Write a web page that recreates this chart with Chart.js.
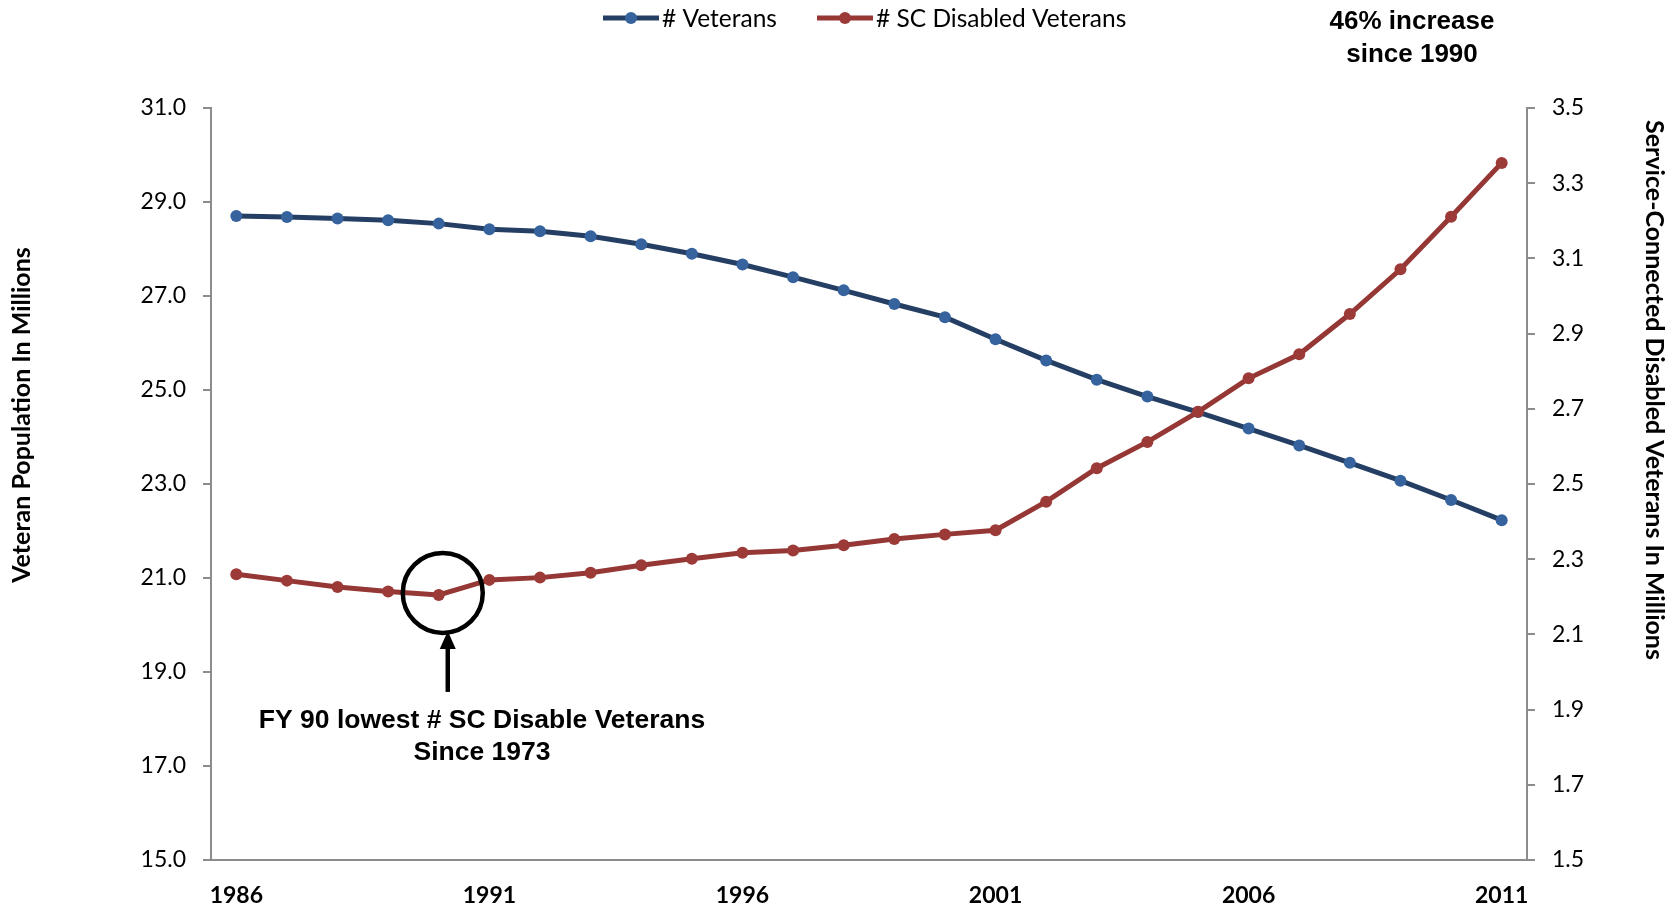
<!DOCTYPE html>
<html lang="en">
<head>
  <meta charset="UTF-8"/>
  <title>Veterans vs SC Disabled Veterans</title>
  <script src="https://cdn.jsdelivr.net/npm/chart.js"></script>
  <style>
    body { margin: 0; background: #fff; }
    #wrap { width: 1675px; height: 907px; position: relative; }
  </style>
</head>
<body>
  <div id="wrap"><canvas id="chart"></canvas></div>

  <script>
    // fiscal years
    const years = ['1986','1987','1988','1989','1990','1991','1992','1993','1994','1995',
                   '1996','1997','1998','1999','2000','2001','2002','2003','2004','2005',
                   '2006','2007','2008','2009','2010','2011'];
    // # veterans (millions, left axis)
    const veterans = [28.70,28.68,28.65,28.61,28.54,28.42,28.38,28.27,28.10,27.90,
                      27.67,27.40,27.12,26.83,26.55,26.08,25.63,25.22,24.86,24.53,
                      24.18,23.82,23.45,23.07,22.66,22.23];
    // # service-connected disabled veterans (millions, right axis)
    const scDisabled = [2.260,2.243,2.226,2.214,2.205,2.245,2.251,2.264,2.284,2.301,
                        2.317,2.323,2.337,2.354,2.366,2.377,2.453,2.542,2.612,2.692,
                        2.781,2.845,2.952,3.071,3.211,3.354];
    const xTickYears = ['1986','1991','1996','2001','2006','2011'];

    const BLUE_LINE = '#243f63', BLUE_PT = '#36639d';
    const RED_LINE = '#953735', RED_PT = '#9c3a38';
    const AXIS = '#8c8c8c';
    const SANS = 'Lato, "Noto Sans", sans-serif';
    const ARIAL = '"Liberation Sans", Arial, sans-serif';

    // legend, axis titles and the FY90 callout
    const extras = {
      id: 'extras',
      afterDraw(chart) {
        const ctx = chart.ctx;
        const xs = chart.scales.x, yr = chart.scales.y1;
        ctx.save();

        // legend
        const items = [
          { x: 603, label: '# Veterans', line: BLUE_LINE, pt: BLUE_PT },
          { x: 817, label: '# SC Disabled Veterans', line: RED_LINE, pt: RED_PT }
        ];
        const ly = 18;
        items.forEach(it => {
          ctx.strokeStyle = it.line;
          ctx.lineWidth = 5;
          ctx.beginPath();
          ctx.moveTo(it.x, ly);
          ctx.lineTo(it.x + 56, ly);
          ctx.stroke();
          ctx.fillStyle = it.pt;
          ctx.beginPath();
          ctx.arc(it.x + 28, ly, 6, 0, Math.PI * 2);
          ctx.fill();
          ctx.fillStyle = '#000';
          ctx.font = '24.5px ' + SANS;
          ctx.textAlign = 'left';
          ctx.textBaseline = 'middle';
          ctx.fillText(it.label, it.x + 59, ly + 1);
        });

        // note top right
        ctx.font = 'bold 26px ' + ARIAL;
        ctx.textAlign = 'center';
        ctx.fillText('46% increase', 1412, 22);
        ctx.fillText('since 1990', 1412, 55);

        // axis titles
        ctx.font = 'bold 25px ' + SANS;
        ctx.save();
        ctx.translate(22, 415);
        ctx.rotate(-Math.PI / 2);
        ctx.fillText('Veteran Population In Millions', 0, 0);
        ctx.restore();
        ctx.save();
        ctx.translate(1654, 390);
        ctx.rotate(Math.PI / 2);
        ctx.fillText('Service-Connected Disabled Veterans In Millions', 0, 0);
        ctx.restore();

        // circle around the FY90 low point
        const px = xs.getPixelForValue(4);
        const py = yr.getPixelForValue(scDisabled[4]);
        const cx = px + 4, cy = py - 2;
        ctx.strokeStyle = '#000';
        ctx.lineWidth = 4.5;
        ctx.beginPath();
        ctx.arc(cx, cy, 40, 0, Math.PI * 2);
        ctx.stroke();

        // arrow
        const ax = cx + 5;
        ctx.beginPath();
        ctx.moveTo(ax, cy + 99);
        ctx.lineTo(ax, cy + 52);
        ctx.stroke();
        ctx.fillStyle = '#000';
        ctx.beginPath();
        ctx.moveTo(ax, cy + 38);
        ctx.lineTo(ax - 8, cy + 56);
        ctx.lineTo(ax + 8, cy + 56);
        ctx.closePath();
        ctx.fill();

        ctx.font = 'bold 26.5px ' + ARIAL;
        ctx.textAlign = 'center';
        ctx.fillText('FY 90 lowest # SC Disable Veterans', 482, 721);
        ctx.fillText('Since 1973', 482, 753);

        ctx.restore();
      }
    };

    new Chart(document.getElementById('chart'), {
      type: 'line',
      data: {
        labels: years,
        datasets: [
          {
            label: '# Veterans',
            data: veterans,
            yAxisID: 'y',
            order: 1,
            borderColor: BLUE_LINE,
            borderWidth: 5,
            pointRadius: 6,
            pointBorderWidth: 0,
            pointBackgroundColor: BLUE_PT,
            tension: 0
          },
          {
            label: '# SC Disabled Veterans',
            data: scDisabled,
            yAxisID: 'y1',
            order: 0,
            borderColor: RED_LINE,
            borderWidth: 5,
            pointRadius: 6,
            pointBorderWidth: 0,
            pointBackgroundColor: RED_PT,
            tension: 0
          }
        ]
      },
      options: {
        responsive: true,
        maintainAspectRatio: false,
        animation: false,
        layout: { padding: { top: 108, left: 0, right: 0, bottom: 0 } },
        plugins: { legend: { display: false }, tooltip: { enabled: false } },
        scales: {
          x: {
            offset: true,
            grid: { display: false, drawTicks: false, tickLength: 0 },
            border: { color: AXIS, width: 2 },
            ticks: {
              autoSkip: false,
              maxRotation: 0,
              padding: 22,
              color: '#000',
              font: { family: SANS, size: 23, weight: 'bold' },
              callback: function (v) {
                const lab = this.getLabelForValue(v);
                return xTickYears.includes(lab) ? lab : '';
              }
            },
            afterFit: s => { s.height = 47; }
          },
          y: {
            position: 'left',
            min: 15, max: 31,
            grid: { drawOnChartArea: false, color: AXIS, lineWidth: 2, tickLength: 8 },
            border: { color: AXIS, width: 2 },
            ticks: {
              stepSize: 2,
              padding: 17,
              color: '#000',
              font: { family: SANS, size: 23 },
              callback: v => Number(v).toFixed(1)
            },
            afterFit: s => { s.width = 211; }
          },
          y1: {
            position: 'right',
            min: 1.5, max: 3.5,
            grid: { drawOnChartArea: false, color: AXIS, lineWidth: 2, tickLength: 8 },
            border: { color: AXIS, width: 2 },
            ticks: {
              stepSize: 0.2,
              padding: 17,
              color: '#000',
              font: { family: SANS, size: 23 },
              callback: v => Number(v).toFixed(1)
            },
            afterFit: s => { s.width = 148; }
          }
        }
      },
      plugins: [extras]
    });
  </script>
</body>
</html>
